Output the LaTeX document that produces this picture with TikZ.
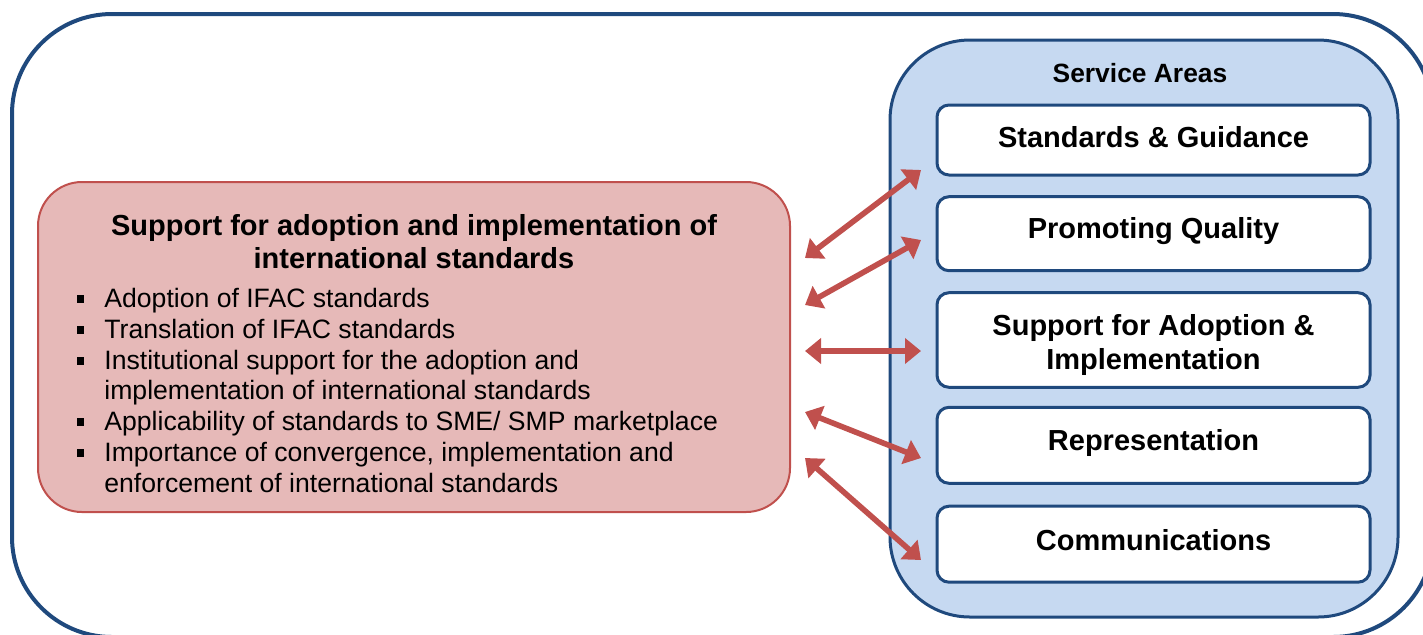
\documentclass[tikz,border=0pt]{standalone}
\usepackage{fontspec}
\setmainfont{Liberation Sans}
\usetikzlibrary{arrows.meta}

\definecolor{frameblue}{RGB}{31,73,125}
\definecolor{panelblue}{RGB}{198,217,241}
\definecolor{arrowred}{RGB}{192,80,77}
\definecolor{boxred}{RGB}{230,185,184}

\newcommand{\bulletline}[3]{%
    \fill (80.5,{#1-8}) +(-3.8,-3.8) rectangle +(3.8,3.8);
    \node[listtext] (#2) at (104,#1) {#3};}

\begin{document}
\begin{tikzpicture}[x=0.5pt, y=-0.5pt,
        area/.style={draw=frameblue, line width=1.5pt, fill=white,
            rounded corners=6pt, minimum width=216.5pt, inner sep=0pt,
            text depth=0pt, align=center,
            font=\bfseries\fontsize{14.5}{17}\selectfont},
        listtext/.style={anchor=base west, inner sep=0pt,
            font=\fontsize{13.3}{15.5}\selectfont},
        link/.style={{Triangle[length=8pt,width=12.5pt]}-{Triangle[length=8pt,width=12.5pt]},
            line width=2.8pt, arrowred}]
    \useasboundingbox (0,0) rectangle (1423,634);
    % outer frame runs off the page on the right and bottom
    \begin{scope}
        \clip (0,0) rectangle (1423,634);
        \draw[frameblue, line width=2pt, rounded corners=50pt]
            (12,14) rectangle (1433,637);
    \end{scope}
    % service areas
    \node[draw=frameblue, line width=1.5pt, fill=panelblue, rounded corners=40pt,
        minimum width=254pt, minimum height=288.5pt] (panel) at (1144,328.5) {};
    \node[font=\bfseries\fontsize{13.2}{15}\selectfont] (title) at (1140,73)
        {Service Areas};
    \foreach \name/\y/\h/\d/\txt in
        {sg/140/35/7.7/Standards \& Guidance, pq/233.7/37/4.6/Promoting Quality,
         sa/340/47.3/29/{Support for Adoption \&\\Implementation},
         rep/445.3/38/4.7/Representation, com/544.2/38/6/Communications}{
        \node[area, minimum height=\h pt, text height=\d pt] (\name) at (1153.5,\y) {\txt};
    }
    % support box
    \node[draw=arrowred, line width=1pt, fill=boxred, rounded corners=22pt,
        minimum width=376pt, minimum height=165pt] (support) at (414,347) {};
    \node[align=center, inner sep=0pt, font=\bfseries\fontsize{14.5}{16.5}\selectfont]
        (head) at (414,242)
        {Support for adoption and implementation of\\international standards};
    \bulletline{307}{b1}{Adoption of IFAC standards}
    \bulletline{338}{b2}{Translation of IFAC standards}
    \bulletline{369}{b3}{Institutional support for the adoption and}
    \node[listtext] (b3a) at (104,399) {implementation of international standards};
    \bulletline{430}{b4}{Applicability of standards to SME/ SMP marketplace}
    \bulletline{461}{b5}{Importance of convergence, implementation and}
    \node[listtext] (b5a) at (104,492) {enforcement of international standards};
    % links
    \foreach \i/\ya/\yb in {1/258/170, 2/305/240, 3/351/351, 4/412/458, 5/458/560}{
        \coordinate (from\i) at (805,\ya);
        \coordinate (to\i) at (921,\yb);
        \draw[link] (from\i) -- (to\i);
    }
\end{tikzpicture}
\end{document}
